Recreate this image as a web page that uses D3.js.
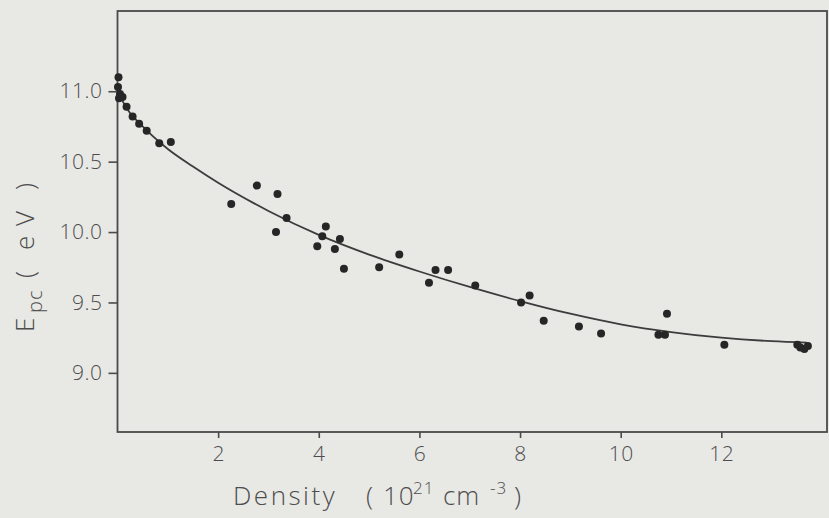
<!DOCTYPE html>
<html>
<head>
<meta charset="utf-8">
<script src="https://cdn.jsdelivr.net/npm/d3@7"></script>
<style>
  html, body { margin: 0; padding: 0; background: #e8e8e5; }
  #container { width: 829px; height: 518px; }
  text { font-family: "Open Sans", "DejaVu Sans", sans-serif; font-weight: 300; fill: #4d4d4d; }
</style>
</head>
<body>
<div id="container"></div>
<script>
// measured points: density (10^21 cm^-3) and E_pc (eV)
var density = [0.02, 0.01, 0.05, 0.03, 0.10, 0.18, 0.30, 0.43, 0.58, 0.83, 1.06,
    2.26, 2.77, 3.18, 3.36, 3.15, 4.14, 4.07, 3.97, 4.42, 4.32, 4.50,
    5.20, 5.60, 6.32, 6.57, 6.19, 7.11, 8.02, 8.19, 8.47, 9.17, 9.61,
    10.92, 10.75, 10.88, 12.06, 13.51, 13.57, 13.65, 13.72];
var energy = [11.10, 11.03, 10.98, 10.95, 10.96, 10.89, 10.82, 10.77, 10.72, 10.63, 10.64,
    10.20, 10.33, 10.27, 10.10, 10.00, 10.04, 9.97, 9.90, 9.95, 9.88, 9.74,
    9.75, 9.84, 9.73, 9.73, 9.64, 9.62, 9.50, 9.55, 9.37, 9.33, 9.28,
    9.42, 9.27, 9.27, 9.20, 9.20, 9.18, 9.17, 9.19];

// fitted curve
var fitDensity = [0, 0.2, 0.5, 1.0, 1.5, 2.0, 3.0, 4.0, 5.0, 6.0, 7.0, 8.0, 9.0, 10.0, 11.0, 12.0, 13.0, 13.7];
var fitEnergy = [11.00, 10.87, 10.75, 10.59, 10.465, 10.35, 10.15, 9.98, 9.84, 9.72, 9.61, 9.51, 9.42, 9.345, 9.29, 9.25, 9.225, 9.215];

var xTicks = [2, 4, 6, 8, 10, 12];
var yTicks = [9.0, 9.5, 10.0, 10.5, 11.0];

var padding = { top: 11, right: 2, bottom: 86, left: 117.5 };
var width = 829 - padding.left - padding.right;
var height = 518 - padding.top - padding.bottom;

var svg = d3.select("#container").append("svg")
    .attr("width", 829)
    .attr("height", 518);

var main = svg.append("g")
    .attr("transform", `translate(${padding.left},${padding.top})`);

var x = d3.scaleLinear().domain([0, 14.1]).range([0, width]);
var y = d3.scaleLinear().domain([8.58, 11.57]).range([height, 0]);

var xAxis = main.append("g")
    .attr("transform", `translate(0,${height})`)
    .call(d3.axisBottom(x).tickValues(xTicks).tickSize(6).tickPadding(5).tickFormat(d3.format("d")));

var yAxis = main.append("g")
    .call(d3.axisLeft(y).tickValues(yTicks).tickSize(9).tickPadding(6).tickFormat(d3.format(".1f")));

[xAxis, yAxis].forEach(a => {
    a.select(".domain").remove();
    a.selectAll(".tick line").attr("stroke", "#4a4a4a").attr("stroke-width", 1.6);
    a.selectAll(".tick text").style("font-size", "21px").style("letter-spacing", "0.5px");
});
xAxis.selectAll(".tick text").attr("dy", "0.85em");

// frame
main.append("rect")
    .attr("x", 0)
    .attr("y", 0)
    .attr("width", width)
    .attr("height", height)
    .attr("fill", "none")
    .attr("stroke", "#4a4a4a")
    .attr("stroke-width", 1.8);

var line = d3.line()
    .x(d => x(d[0]))
    .y(d => y(d[1]))
    .curve(d3.curveMonotoneX);

main.append("path")
    .datum(fitDensity.map((d, i) => [d, fitEnergy[i]]))
    .attr("fill", "none")
    .attr("stroke", "#3c3c3c")
    .attr("stroke-width", 1.8)
    .attr("d", line);

main.selectAll("circle.pt")
    .data(density.map((d, i) => [d, energy[i]]))
    .enter().append("circle")
    .attr("class", "pt")
    .attr("cx", d => x(d[0]))
    .attr("cy", d => y(d[1]))
    .attr("r", 4)
    .attr("fill", "#262626");

// axis titles
var xTitle = svg.append("text")
    .attr("y", 505)
    .style("font-size", "26px")
    .style("letter-spacing", "1px");
xTitle.append("tspan").attr("x", 233).style("letter-spacing", "2.5px").text("Density");
xTitle.append("tspan").attr("x", 366).text("(");
xTitle.append("tspan").attr("x", 383).text("10");
xTitle.append("tspan").attr("x", 413).attr("dy", -11).style("font-size", "17px").text("21");
xTitle.append("tspan").attr("x", 443).attr("dy", 11).text("cm");
xTitle.append("tspan").attr("x", 490).attr("dy", -11).style("font-size", "17px").text("-3");
xTitle.append("tspan").attr("x", 514).attr("dy", 11).text(")");

var yTitle = svg.append("text")
    .attr("transform", "translate(34,332) rotate(-90)")
    .style("font-size", "26px")
    .style("letter-spacing", "1px");
yTitle.append("tspan").attr("x", 0).text("E");
yTitle.append("tspan").attr("x", 19).attr("dy", 8).style("font-size", "20px").text("pc");
yTitle.append("tspan").attr("x", 54).attr("dy", -8).text("(");
yTitle.append("tspan").attr("x", 82).text("e");
yTitle.append("tspan").attr("x", 106).text("V");
yTitle.append("tspan").attr("x", 142).text(")");
</script>
</body>
</html>
